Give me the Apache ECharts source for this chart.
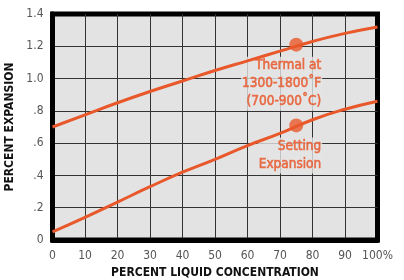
<!DOCTYPE html>
<html><head><meta charset="utf-8">
<script src="https://cdn.jsdelivr.net/npm/echarts@6/dist/echarts.min.js"></script>
<style>html,body{margin:0;padding:0;background:#fff}#c{width:404px;height:280px}</style>
</head><body><div id="c"></div>
<script>
const xValues = [0, 10, 20, 30, 40, 50, 60, 70, 80, 90, 100];
const thermal = [0.70, 0.775, 0.85, 0.92, 0.985, 1.05, 1.11, 1.17, 1.23, 1.28, 1.32];
const setting = [0.05, 0.14, 0.235, 0.33, 0.42, 0.50, 0.585, 0.66, 0.745, 0.81, 0.86];
const markerX = 75;
const thermalMarker = 1.21;
const settingMarker = 0.71;
const thermalLabel = 'Thermal at\n1300-1800˚F\n(700-900˚C)';
const settingLabel = 'Setting\nExpansion';
const yTickLabels = {0:'0',0.2:'.2',0.4:'.4',0.6:'.6',0.8:'.8',1:'1.0',1.2:'1.2',1.4:'1.4'};

const FONT = "'Liberation Sans Narrow','DejaVu Sans Condensed',sans-serif";
const ORANGE = '#e8582a';
const chart = echarts.init(document.getElementById('c'), null, {renderer:'canvas'});
const lab = {
  show: true, position: 'bottom', distance: 5, offset: [26, 0], color: ORANGE, fontFamily: FONT,
  fontSize: 13.5, lineHeight: 18, align: 'right', backgroundColor: '#e3e3e3', padding: [0, 1],
  textBorderColor: ORANGE, textBorderWidth: 0.6
};
chart.setOption({
  animation: false,
  grid: {left: 52.5, top: 14, width: 325, height: 226, show: true, outerBoundsMode: 'none',
         containLabel: false,
         backgroundColor: '#e3e3e3', borderColor: '#000', borderWidth: 5},
  xAxis: {
    type: 'value', min: 0, max: 100, interval: 10,
    name: 'PERCENT LIQUID CONCENTRATION', nameLocation: 'middle', nameGap: 25,
    nameTextStyle: {fontFamily: FONT, fontWeight: 'bold', fontSize: 12, color: '#111'},
    axisLine: {show: true, lineStyle: {color: '#000', width: 5}},
    axisTick: {show: false},
    axisLabel: {fontFamily: FONT, fontSize: 12, color: '#555', margin: 10,
      formatter: v => v === 100 ? '100%' : String(v)},
    splitLine: {show: true, showMinLine: false, showMaxLine: false, lineStyle: {color: '#333', width: 1}}
  },
  yAxis: {
    type: 'value', min: 0, max: 1.4, interval: 0.2,
    name: 'PERCENT EXPANSION', nameLocation: 'middle', nameGap: 34,
    nameTextStyle: {fontFamily: FONT, fontWeight: 'bold', fontSize: 12, color: '#111'},
    axisLine: {show: true, lineStyle: {color: '#000', width: 5}},
    axisTick: {show: false},
    axisLabel: {fontFamily: FONT, fontSize: 12, color: '#555', margin: 9,
      formatter: v => yTickLabels[Math.round(v * 10) / 10] ?? String(v)},
    splitLine: {show: true, showMinLine: false, showMaxLine: false, lineStyle: {color: '#333', width: 1}}
  },
  series: [
    {type: 'scatter', symbolSize: 14, itemStyle: {color: ORANGE}, z: 2,
     data: [
       {value: [markerX, thermalMarker], label: Object.assign({}, lab, {formatter: thermalLabel})},
       {value: [markerX, settingMarker], label: Object.assign({}, lab, {formatter: settingLabel})}
     ]},
    {type: 'line', data: xValues.map((x, i) => [x, thermal[i]]), smooth: true, showSymbol: false, z: 3,
     lineStyle: {color: ORANGE, width: 3}},
    {type: 'line', data: xValues.map((x, i) => [x, setting[i]]), smooth: true, showSymbol: false, z: 3,
     lineStyle: {color: ORANGE, width: 3}}
  ]
});
</script></body></html>
